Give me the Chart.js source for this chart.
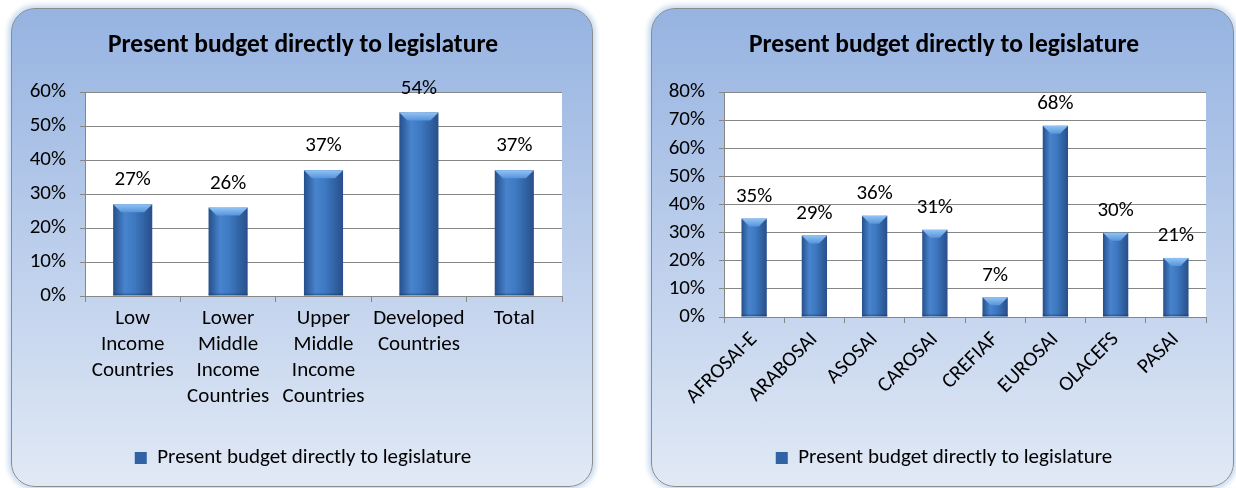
<!DOCTYPE html>
<html>
<head>
<meta charset="utf-8">
<script src="https://cdn.jsdelivr.net/npm/chart.js@4.4.1/dist/chart.umd.min.js"></script>
<style>
  html, body { margin: 0; padding: 0; background: #ffffff; }
  body { width: 1236px; height: 488px; position: relative; overflow: hidden; }
  .panel {
    position: absolute; top: 8px; width: 580px; height: 477px;
    border: 1px solid #8c8c8c; border-radius: 24px;
    background: linear-gradient(#96b3e1, #e1e9f5);
    box-shadow: 0 0 5px 3px #c9dbf2;
    overflow: hidden;
  }
  #panelLeft { left: 11px; }
  #panelRight { left: 651px; width: 581px; }
  canvas { position: absolute; left: 0; top: 0; }
</style>
</head>
<body>
<div class="panel" id="panelLeft"><canvas id="chartLeft" width="580" height="477"></canvas></div>
<div class="panel" id="panelRight"><canvas id="chartRight" width="581" height="477"></canvas></div>
<script>
// datos del grafico izquierdo (por nivel de ingreso)
const leftCategories = [
  ['Low', 'Income', 'Countries'],
  ['Lower', 'Middle', 'Income', 'Countries'],
  ['Upper', 'Middle', 'Income', 'Countries'],
  ['Developed', 'Countries'],
  ['Total']
];
const leftValues = [27, 26, 37, 54, 37];
const leftMax = 60;

// datos del grafico derecho (por region INTOSAI)
const rightCategories = ['AFROSAI-E', 'ARABOSAI', 'ASOSAI', 'CAROSAI', 'CREFIAF', 'EUROSAI', 'OLACEFS', 'PASAI'];
const rightValues = [35, 29, 36, 31, 7, 68, 30, 21];
const rightMax = 80;

const seriesName = 'Present budget directly to legislature';
const FONT = "Carlito, Calibri, Lato, sans-serif";
const TXT = 21;
const GRID = '#868686';

// fondo blanco del area de trazado
const plotBg = {
  id: 'plotBg',
  beforeDraw(chart) {
    const a = chart.chartArea, c = chart.ctx;
    c.save();
    c.fillStyle = '#ffffff';
    c.fillRect(a.left, a.top, a.right - a.left, a.bottom - a.top);
    c.restore();
  }
};

// etiquetas del eje Y dibujadas a mano (sin recorte del cuadro del eje)
const yLabels = {
  id: 'yLabels',
  afterDraw(chart) {
    const y = chart.scales.y, c = chart.ctx;
    c.save();
    c.fillStyle = '#000000';
    c.font = TXT + 'px ' + FONT;
    c.textAlign = 'right';
    c.textBaseline = 'middle';
    y.ticks.forEach(t => {
      c.fillText(t.value + '%', y.right - 5 - 14, y.getPixelForValue(t.value));
    });
    c.restore();
  }
};

// barras con degradado y bisel superior, mas etiquetas de valor
const bevelBars = {
  id: 'bevelBars',
  beforeDatasetsDraw(chart) {
    const c = chart.ctx;
    chart.getDatasetMeta(0).data.forEach(el => {
      const x0 = el.x - el.width / 2, x1 = el.x + el.width / 2;
      const top = el.y, bot = el.base, w = el.width;
      const g = c.createLinearGradient(x0, 0, x1, 0);
      g.addColorStop(0, '#264f8b');
      g.addColorStop(0.3, '#4884cd');
      g.addColorStop(0.55, '#3d78c1');
      g.addColorStop(1, '#284f8a');
      c.save();
      c.fillStyle = g;
      c.fillRect(x0, top, w, bot - top);
      // bisel
      const b = Math.min(8, (bot - top) / 2);
      const cap = c.createLinearGradient(0, top, 0, top + b);
      cap.addColorStop(0, '#92c4f4');
      cap.addColorStop(1, '#5694dc');
      c.fillStyle = cap;
      c.beginPath();
      c.moveTo(x0, top);
      c.lineTo(x1, top);
      c.lineTo(x1 - b, top + b);
      c.lineTo(x0 + b, top + b);
      c.closePath();
      c.fill();
      // sombra inferior
      c.fillStyle = 'rgba(20,50,90,0.35)';
      c.fillRect(x0, bot - 2, w, 2);
      c.restore();
    });
    return false;
  },
  afterDraw(chart, args, opts) {
    const c = chart.ctx;
    const vals = chart.data.datasets[0].data;
    c.save();
    c.fillStyle = '#000000';
    c.font = TXT + 'px ' + FONT;
    c.textAlign = 'center';
    c.textBaseline = 'middle';
    chart.getDatasetMeta(0).data.forEach((el, i) => {
      c.fillText(vals[i] + '%', el.x, el.y - opts.offset);
    });
    c.restore();
  }
};

function crearGrafico(id, labels, values, maxY, cfg) {
  const ctx = document.getElementById(id).getContext('2d');
  return new Chart(ctx, {
    type: 'bar',
    data: {
      labels: labels,
      datasets: [{
        label: seriesName,
        data: values,
        backgroundColor: '#2f63a6',
        borderWidth: 0,
        barPercentage: cfg.barPct,
        categoryPercentage: 1
      }]
    },
    options: {
      responsive: false,
      animation: false,
      layout: { padding: { left: cfg.padLeft, right: cfg.padRight, top: 0, bottom: 7.5 } },
      plugins: {
        title: {
          display: true,
          text: seriesName,
          color: '#000000',
          font: { family: FONT, size: 25.5, weight: 'bold', lineHeight: 1.2 },
          padding: { top: 21, bottom: cfg.titleGap }
        },
        legend: {
          display: true,
          position: 'bottom',
          labels: {
            color: '#000000',
            font: { family: FONT, size: TXT },
            boxWidth: 12,
            boxHeight: 12,
            padding: 10
          }
        },
        tooltip: { enabled: false },
        bevelBars: { offset: cfg.labelOffset }
      },
      scales: {
        x: {
          grid: { drawOnChartArea: false, color: GRID, tickLength: 6, offset: true },
          border: { color: GRID },
          ticks: {
            color: '#000000',
            font: { family: FONT, size: TXT, lineHeight: 1.24 },
            padding: 4,
            autoSkip: false,
            minRotation: cfg.rotation,
            maxRotation: cfg.rotation
          },
          afterFit(scale) { scale.height = cfg.xHeight; }
        },
        y: {
          min: 0,
          max: maxY,
          grid: { color: GRID, tickLength: 5 },
          border: { color: GRID },
          ticks: {
            stepSize: 10,
            autoSkip: false,
            display: false
          },
          afterFit(scale) { scale.width = cfg.yWidth; }
        }
      }
    },
    plugins: [plotBg, bevelBars, yLabels]
  });
}

crearGrafico('chartLeft', leftCategories, leftValues, leftMax, {
  barPct: 0.41, padLeft: 32, padRight: 30, titleGap: 31.4, xHeight: 141.5, yWidth: 41, rotation: 0, labelOffset: 24
});
crearGrafico('chartRight', rightCategories, rightValues, rightMax, {
  barPct: 0.42, padLeft: 30, padRight: 27, titleGap: 31.4, xHeight: 120.5, yWidth: 42, rotation: 45, labelOffset: 22
});
</script>
</body>
</html>
